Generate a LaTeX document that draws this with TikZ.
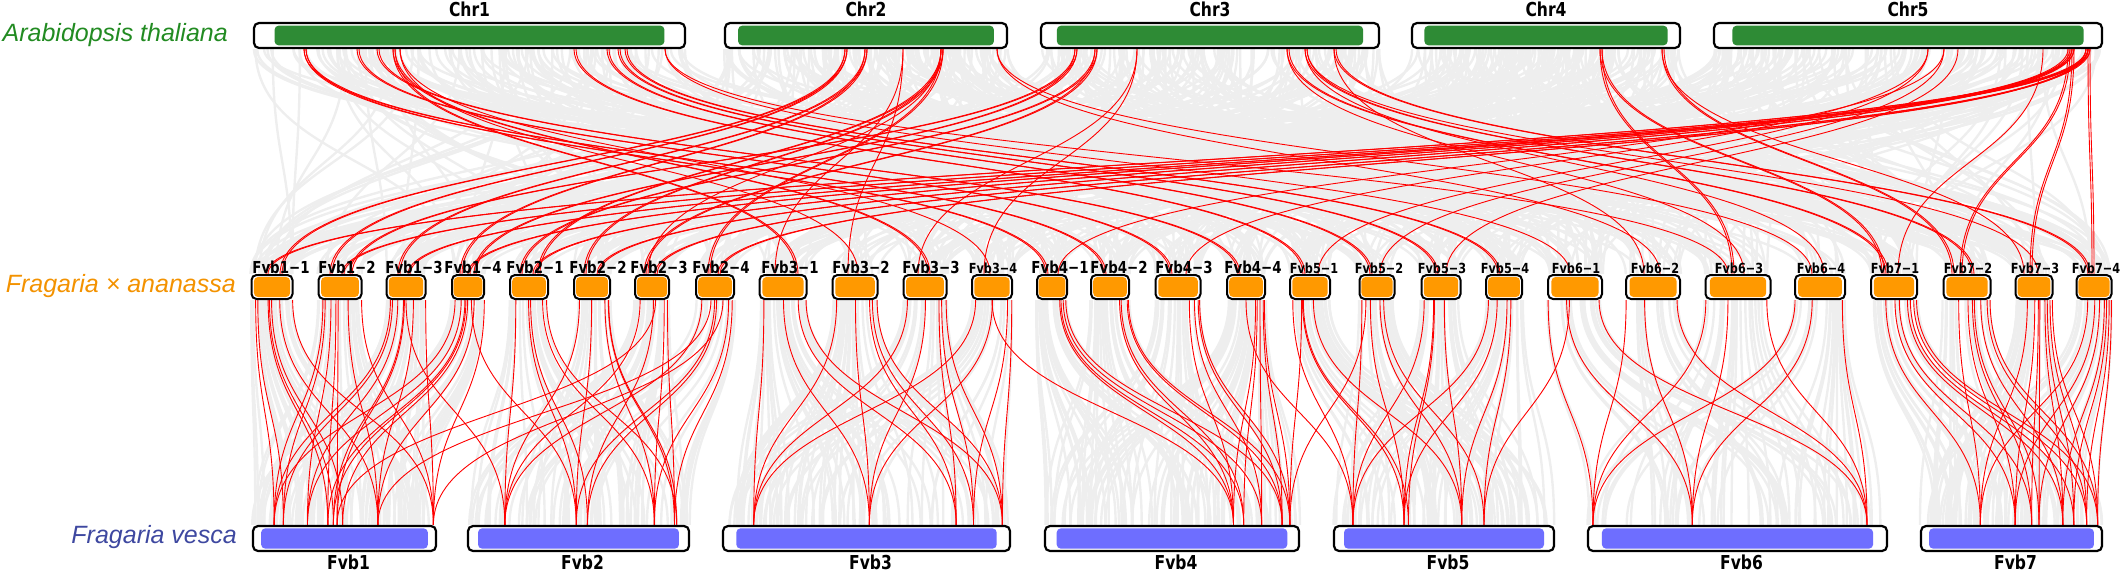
\documentclass[tikz,border=0pt]{standalone}
\usepackage{fontspec}
\setmainfont{DejaVu Sans}
\newfontfamily\arialfont{Liberation Sans}
\newfontfamily\narrowfont[FakeStretch=0.81]{DejaVu Sans}
\usetikzlibrary{calc}

\definecolor{atgreen}{RGB}{46,139,53}
\definecolor{fagold}{RGB}{255,153,0}
\definecolor{fvblue}{RGB}{110,110,255}
\definecolor{attext}{RGB}{34,139,34}
\definecolor{fatext}{RGB}{243,146,0}
\definecolor{fvtext}{RGB}{62,72,160}
\definecolor{linkgrey}{RGB}{238,238,238}

\pgfdeclarelayer{links}
\pgfsetlayers{links,main}

\tikzset{
  chrbox/.style={draw=black, line width=2.2pt, fill=white, rounded corners=5pt, minimum height=25pt, inner sep=0pt},
  fabox/.style={chrbox, minimum height=24pt, line width=2pt},
  redlink/.style={red, line width=0.9pt},
  greylink/.style={linkgrey, line width=2.4pt},
  chrlabel/.style={font=\narrowfont\bfseries\fontsize{19.2}{20}\selectfont, inner sep=0pt, anchor=base},
  species/.style={font=\arialfont\itshape\fontsize{25}{28}\selectfont, anchor=east, inner sep=0pt},
}

% coloured bar inside a box
\newcommand{\innerbar}[4]{%
  \fill[#2, rounded corners=4pt] ($(#1.south west)!#3!(#1.south east)+(0pt,#4)$) rectangle ($(#1.north east)!#3!(#1.north west)+(0pt,-#4)$);}
% Arabidopsis -> ananassa, by x position
\newcommand{\toplink}[5]{%
  \foreach \o in {1,...,#5}{\draw[redlink] ({#2+2*\o-2},0 |- #1.south) .. controls +(0,113) and +(0,-113) .. ({#4+2*\o-2},0 |- #3.north);}}
% ananassa -> vesca, by fraction along the boxes
\newcommand{\sublink}[5][redlink]{%
  \draw[#1] ($(#2.south west)!#3!(#2.south east)$) .. controls +(0,113) and +(0,-113) .. ($(#4.north west)!#5!(#4.north east)$);}

\begin{document}
\begin{tikzpicture}[x=1pt, y=-1pt]
  \useasboundingbox (0,0) rectangle (2120,571);

  % species names
  \node[species, text=attext] (atname) at (228,35) {Arabidopsis thaliana};
  \node[species, text=fatext] (faname) at (236,286) {Fragaria × ananassa};
  \node[species, text=fvtext] (fvname) at (237,537) {Fragaria vesca};

  % Arabidopsis chromosomes
  \foreach \i/\c/\w in {1/469.5/431, 2/866/282, 3/1210/338, 4/1546/268, 5/1908/388}{
    \node[chrbox, minimum width=\w pt] (chr\i) at (\c,35.5) {};
    \innerbar{chr\i}{atgreen}{0.05}{3.8pt}
    \node[chrlabel] (lchr\i) at ($(chr\i.north)+(0,5pt)$) {Chr\i};
  }

  % ananassa sub-chromosomes
  \foreach \k/\j/\c/\w/\lx/\fs in {1/1/272/41/281/16.5, 1/2/340/43/347/16.5, 1/3/406/39/414/16.5, 1/4/468/32/473/16.5,
      2/1/529/38/535/16.5, 2/2/592/36/598/16.5, 2/3/652/34/659/16.5, 2/4/715/38/721/16.5,
      3/1/783/47/790/16.5, 3/2/855/45/861/16.5, 3/3/925/43/931/16.5, 3/4/992/40/993/13.9,
      4/1/1052/30/1060/16.5, 4/2/1110/38/1119/16.5, 4/3/1178/45/1184/16.5, 4/4/1246/38/1253/16.5,
      5/1/1310/40/1314/13.9, 5/2/1377/35/1379/13.9, 5/3/1441/39/1442/13.9, 5/4/1504/36/1505/13.9,
      6/1/1575/54/1576/13.9, 6/2/1653/54/1655/13.9, 6/3/1738/65/1739/13.9, 6/4/1820/50/1821/13.9,
      7/1/1894/46/1895/13.9, 7/2/1967/47/1968/13.9, 7/3/2034/37/2035/13.9, 7/4/2094/35/2096/13.9}{
    \node[fabox, minimum width=\w pt] (fa\k\j) at (\c,287) {};
    \innerbar{fa\k\j}{fagold}{0.08}{3pt}
    \node[anchor=base, inner sep=0pt, font=\narrowfont\bfseries\fontsize{\fs}{\fs}\selectfont] (lfa\k\j) at (\lx,273) {Fvb\k−\j};
  }

  % vesca chromosomes
  \foreach \k/\c/\w in {1/344.5/183, 2/578.5/221, 3/866.5/287, 4/1172/254, 5/1444/220, 6/1737.5/299, 7/2011.5/181}{
    \node[chrbox, minimum width=\w pt] (fv\k) at (\c,538.5) {};
    \innerbar{fv\k}{fvblue}{0.05}{3.5pt}
    \node[chrlabel] (lfv\k) at ($(fv\k.south)+(4pt,-17pt)$) {Fvb\k};
  }

  \begin{pgfonlayer}{links}
    % grey background links
    \pgfmathsetseed{17}
    \foreach \n in {1,...,800}{
      \pgfmathrandominteger{\src}{1}{5}
      \pgfmathrandominteger{\kk}{1}{7}
      \pgfmathrandominteger{\jj}{1}{4}
      \pgfmathsetmacro{\pp}{rnd}
      \pgfmathsetmacro{\qq}{rnd}
      \draw[greylink] ($(chr\src.south west)!\pp!(chr\src.south east)$) .. controls +(0,113) and +(0,-113) .. ($(fa\kk\jj.north west)!\qq!(fa\kk\jj.north east)$);
    }
    \foreach \n in {1,...,700}{
      \pgfmathrandominteger{\kk}{1}{7}
      \pgfmathrandominteger{\jj}{1}{4}
      \pgfmathsetmacro{\pp}{rnd}
      \sublink[greylink]{fa\kk\jj}{\pp}{fv\kk}{\pp}
    }

    % Chr1
    \toplink{chr1}{304}{fa41}{1046}{2}
    \toplink{chr1}{304}{fa42}{1104}{2}
    \toplink{chr1}{357}{fa43}{1170}{2}
    \toplink{chr1}{377}{fa44}{1238}{2}
    \toplink{chr1}{393}{fa31}{796}{2}
    \toplink{chr1}{400}{fa32}{858}{1}
    \toplink{chr1}{393}{fa33}{928}{2}
    \toplink{chr1}{400}{fa34}{990}{1}
    \toplink{chr1}{574}{fa51}{1303}{2}
    \toplink{chr1}{607}{fa52}{1370}{2}
    \toplink{chr1}{618}{fa53}{1436}{2}
    \toplink{chr1}{625}{fa54}{1498}{2}
    \toplink{chr1}{665}{fa61}{1570}{1}
    \toplink{chr1}{665}{fa63}{1728}{1}
    % Chr2
    \toplink{chr2}{845}{fa11}{280}{2}
    \toplink{chr2}{845}{fa12}{330}{2}
    \toplink{chr2}{865}{fa13}{398}{2}
    \toplink{chr2}{865}{fa14}{460}{2}
    \toplink{chr2}{903}{fa31}{775}{1}
    \toplink{chr2}{903}{fa32}{848}{1}
    \toplink{chr2}{941}{fa21}{538}{2}
    \toplink{chr2}{941}{fa22}{584}{2}
    \toplink{chr2}{941}{fa23}{648}{1}
    \toplink{chr2}{941}{fa24}{708}{2}
    \toplink{chr2}{997}{fa62}{1660}{1}
    \toplink{chr2}{997}{fa64}{1812}{1}
    % Chr3
    \toplink{chr3}{1075}{fa12}{350}{2}
    \toplink{chr3}{1075}{fa14}{474}{2}
    \toplink{chr3}{1095}{fa21}{520}{2}
    \toplink{chr3}{1095}{fa23}{644}{2}
    \toplink{chr3}{1137}{fa33}{918}{1}
    \toplink{chr3}{1137}{fa34}{984}{1}
    \toplink{chr3}{1287}{fa71}{1886}{2}
    \toplink{chr3}{1305}{fa72}{1972}{2}
    \toplink{chr3}{1307}{fa73}{2038}{1}
    \toplink{chr3}{1334}{fa74}{2088}{2}
    \toplink{chr3}{1287}{fa63}{1744}{1}
    \toplink{chr3}{1305}{fa64}{1824}{1}
    \toplink{chr3}{1334}{fa62}{1644}{1}
    % Chr4
    \toplink{chr4}{1600}{fa63}{1732}{2}
    \toplink{chr4}{1600}{fa71}{1882}{2}
    \toplink{chr4}{1662}{fa72}{1952}{2}
    \toplink{chr4}{1662}{fa73}{2024}{1}
    % Chr5
    \toplink{chr5}{2086}{fa11}{266}{2}
    \toplink{chr5}{2088}{fa12}{342}{2}
    \toplink{chr5}{2086}{fa13}{408}{2}
    \toplink{chr5}{2072}{fa14}{468}{2}
    \toplink{chr5}{2068}{fa21}{533}{2}
    \toplink{chr5}{2072}{fa22}{597}{2}
    \toplink{chr5}{2088}{fa23}{655}{2}
    \toplink{chr5}{2086}{fa24}{718}{2}
    \toplink{chr5}{2043}{fa71}{1898}{1}
    \toplink{chr5}{2068}{fa72}{1960}{2}
    \toplink{chr5}{2072}{fa73}{2030}{2}
    \toplink{chr5}{2088}{fa74}{2092}{2}
    \toplink{chr5}{1928}{fa51}{1318}{1}
    \toplink{chr5}{1944}{fa52}{1380}{1}
    \toplink{chr5}{1958}{fa53}{1446}{1}
    \toplink{chr5}{1944}{fa41}{1058}{1}
    \toplink{chr5}{1928}{fa43}{1186}{1}

    % ananassa -> vesca
    \foreach \k/\p/\js in {1/0.12/{1,2,3,4}, 1/0.17/{1,2,3}, 1/0.30/{2,3,4}, 1/0.41/{1,2,4}, 1/0.44/{1,3,4},
        1/0.46/{2,3}, 1/0.49/{1,4}, 1/0.68/{1,2,3,4}, 1/0.98/{1,2,3,4},
        2/0.17/{1,2,3,4}, 2/0.49/{1,2,4}, 2/0.54/{1,3,4}, 2/0.84/{1,2,3,4}, 2/0.93/{2,3,4}, 2/0.94/{1,2},
        3/0.11/{1,2,3,4}, 3/0.51/{1,2,3,4}, 3/0.81/{1,2,3}, 3/0.87/{2,3,4}, 3/0.97/{1,2,3,4},
        4/0.74/{1,2,3,4}, 4/0.78/{1,2,4}, 4/0.85/{1,3,4}, 4/0.93/{1,2,3,4}, 4/0.96/{2,3,4},
        5/0.09/{1,2,3,4}, 5/0.32/{1,2,3,4}, 5/0.34/{1,3}, 5/0.58/{1,2,3,4}, 5/0.68/{2,4},
        6/0.02/{1,2,3,4}, 6/0.35/{1,2,3,4}, 6/0.93/{1,2,3,4},
        7/0.33/{1,2,3,4}, 7/0.52/{1,2,3,4}, 7/0.61/{1,2,3}, 7/0.65/{2,3,4}, 7/0.78/{1,2,3,4},
        7/0.84/{1,3,4}, 7/0.91/{1,2,3,4}, 7/0.97/{1,2,3,4}}{
      \foreach \j in \js {\sublink{fa\k\j}{\p}{fv\k}{\p}}
    }
    \sublink{fa23}{0.6}{fv1}{0.46}
    \sublink{fa24}{0.4}{fv1}{0.68}
    \sublink{fa24}{0.7}{fv1}{0.98}
    \sublink{fa13}{0.5}{fv2}{0.17}
    \sublink{fa14}{0.6}{fv2}{0.49}
    \sublink{fa34}{0.5}{fv4}{0.74}
    \sublink{fa51}{0.3}{fv4}{0.96}
    \sublink{fa52}{0.2}{fv4}{0.96}
    \sublink{fa44}{0.5}{fv5}{0.09}
    \sublink{fa61}{0.4}{fv5}{0.68}
  \end{pgfonlayer}
\end{tikzpicture}
\end{document}
